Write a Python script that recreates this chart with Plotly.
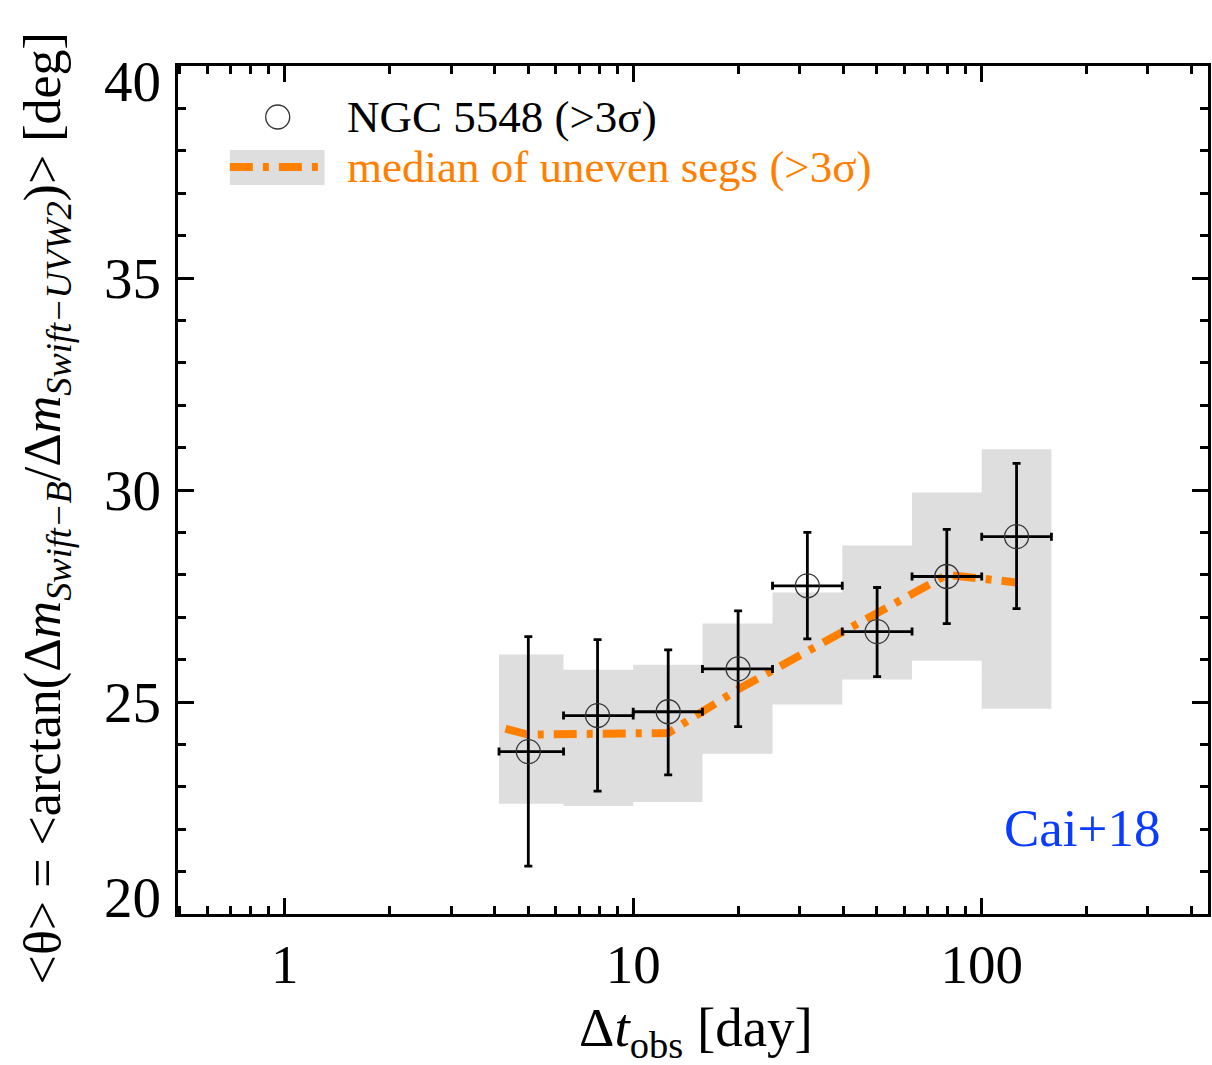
import math
import plotly.graph_objects as go

# ---- data ----
dt_center = [5.0, 7.9, 12.6, 20.0, 31.6, 50.1, 79.4, 125.9]
bin_lo = [4.12, 6.31, 10.0, 15.8, 25.1, 39.8, 63.1, 100.0]
bin_hi = [6.31, 10.0, 15.8, 25.1, 39.8, 63.1, 100.0, 158.5]
theta = [23.83, 24.68, 24.77, 25.78, 27.74, 26.66, 27.96, 28.90]
theta_err_hi = [26.54, 26.47, 26.23, 27.15, 29.00, 27.70, 29.07, 30.63]
theta_err_lo = [21.13, 22.90, 23.28, 24.42, 26.49, 25.60, 26.85, 27.20]
band_top = [26.12, 25.76, 25.88, 26.85, 27.58, 28.69, 29.94, 30.96]
band_bot = [22.60, 22.55, 22.64, 23.78, 24.94, 25.53, 25.97, 24.84]
median_x = [4.3, 5.0, 7.9, 12.6, 20.0, 31.6, 50.1, 79.4, 125.9]
median_y = [24.37, 24.23, 24.25, 24.27, 25.30, 26.20, 27.10, 28.00, 27.82]
xtick_vals = [1, 10, 100]
xtick_text = ["1", "10", "100"]
ytick_vals = [20, 25, 30, 35, 40]
ytick_text = ["20", "25", "30", "35", "40"]

FONT = "Liberation Serif"
ORANGE = "#ff8000"
GRAY = "#dedede"

fig = go.Figure()

# grey bands (one rectangle per bin)
bx, by = [], []
for lo, hi, b, t in zip(bin_lo, bin_hi, band_bot, band_top):
    bx += [lo, hi, hi, lo, lo, None]
    by += [b, b, t, t, b, None]
fig.add_trace(go.Scatter(x=bx, y=by, mode="lines", fill="toself",
                         fillcolor=GRAY, line=dict(width=0), hoverinfo="skip",
                         showlegend=False))

# median line
fig.add_trace(go.Scatter(x=median_x, y=median_y, mode="lines",
                         line=dict(color=ORANGE, width=8, dash="23px,10px,6px,10px"),
                         showlegend=False))

# data points with error bars
fig.add_trace(go.Scatter(
    x=dt_center, y=theta, mode="markers",
    marker=dict(symbol="circle-open", size=24, color="#333333", line=dict(width=1.3)),
    error_x=dict(type="data", symmetric=False,
                 array=[h - c for h, c in zip(bin_hi, dt_center)],
                 arrayminus=[c - l for l, c in zip(bin_lo, dt_center)],
                 color="black", thickness=2.8, width=4),
    error_y=dict(type="data", symmetric=False,
                 array=[h - v for h, v in zip(theta_err_hi, theta)],
                 arrayminus=[v - l for l, v in zip(theta_err_lo, theta)],
                 color="black", thickness=2.8, width=4),
    showlegend=False))

minor_x = []
for dec in [0.1, 1, 10, 100]:
    for m in range(2, 10):
        v = m * dec
        if 0.49 < v < 460:
            minor_x.append(v)

fig.update_xaxes(
    type="log", range=[math.log10(0.494), math.log10(446)],
    tickvals=xtick_vals, ticktext=xtick_text,
    ticks="inside", ticklen=16, tickwidth=2.5, tickcolor="black",
    showline=True, linewidth=2.5, linecolor="black", mirror="ticks",
    showgrid=False, zeroline=False,
    tickfont=dict(family=FONT, size=55, color="black"),
    minor=dict(tickvals=minor_x, ticks="inside", ticklen=8, tickwidth=2.5,
               tickcolor="black", showgrid=False),
)
fig.update_yaxes(
    range=[20, 40], tickvals=ytick_vals, showticklabels=False,
    ticks="inside", ticklen=16, tickwidth=2.5, tickcolor="black",
    showline=True, linewidth=2.5, linecolor="black", mirror="ticks",
    showgrid=False, zeroline=False,
    minor=dict(dtick=1, ticks="inside", ticklen=8, tickwidth=2.5,
               tickcolor="black", showgrid=False),
)

def px(x):
    return (x - 178) / 1033.0

def py(y):
    return (914 - y) / 848.0

shapes = [
    dict(type="rect", xref="paper", yref="paper", x0=px(230), x1=px(325),
         y0=py(185), y1=py(150), fillcolor=GRAY, line=dict(width=0)),
    dict(type="line", xref="paper", yref="paper", x0=px(230), x1=px(322),
         y0=py(167), y1=py(167), line=dict(color=ORANGE, width=8, dash="23px,10px,6px,10px")),
    dict(type="circle", xref="paper", yref="paper", xsizemode="pixel", ysizemode="pixel",
         xanchor=px(278), yanchor=py(117), x0=-12, x1=12, y0=-12, y1=12,
         line=dict(color="#333333", width=1.3)),
]

annotations = []
# y tick labels (first/last nudged inward as in the reference)
for v, t in zip(ytick_vals, ytick_text):
    shift = 0
    if v == ytick_vals[0]:
        shift = 17
    elif v == ytick_vals[-1]:
        shift = -15
    annotations.append(dict(text=t, xref="paper", yref="y", x=px(163), y=v, yshift=shift,
                            xanchor="right", yanchor="middle", showarrow=False,
                            font=dict(family=FONT, size=57, color="black")))

annotations += [
    dict(text="NGC 5548 (&gt;3σ)", xref="paper", yref="paper", x=px(345), y=py(117),
         xanchor="left", yanchor="middle", showarrow=False,
         font=dict(family=FONT, size=45, color="black")),
    dict(text="median of uneven segs (&gt;3σ)", xref="paper", yref="paper", x=px(345), y=py(167),
         xanchor="left", yanchor="middle", showarrow=False,
         font=dict(family=FONT, size=45, color=ORANGE)),
    dict(text="Cai+18", xref="paper", yref="paper", x=px(1004), y=py(828),
         xanchor="left", yanchor="middle", showarrow=False,
         font=dict(family=FONT, size=53, color="#0a3cff")),
    dict(text="Δ<i>t</i><sub>obs</sub> [day]", xref="paper", yref="paper",
         x=px(698), y=py(1031), xanchor="center", yanchor="middle", showarrow=False,
         font=dict(family=FONT, size=55, color="black")),
    dict(text="&lt;θ&gt; = &lt;arctan(Δ<i>m</i><sub><i>Swift−B</i></sub>/Δ<i>m</i><sub><i>Swift−UVW2</i></sub>)&gt; [deg]",
         xref="paper", yref="paper", x=px(46), y=py(508), textangle=-90,
         xanchor="center", yanchor="middle", showarrow=False,
         font=dict(family=FONT, size=52, color="black")),
]

fig.update_layout(
    width=1212, height=1065,
    margin=dict(l=178, r=1, t=66, b=151),
    paper_bgcolor="white", plot_bgcolor="white",
    shapes=shapes, annotations=annotations,
    showlegend=False,
)

fig.write_html("out.html")
